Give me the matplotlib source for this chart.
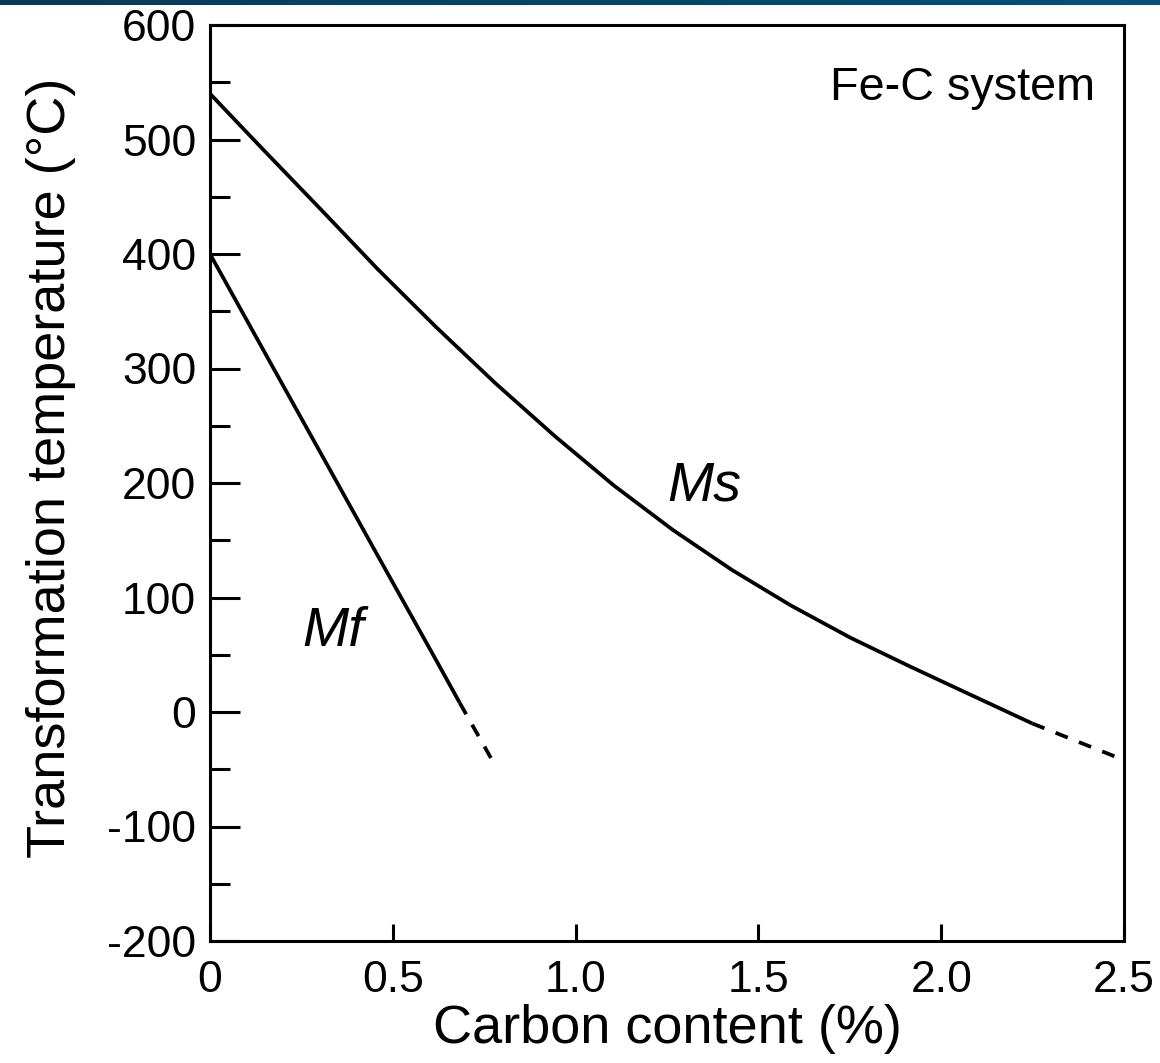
import numpy as np
import matplotlib
matplotlib.use("Agg")
import matplotlib.pyplot as plt
from matplotlib.colors import LinearSegmentedColormap

# ---- data ----
ms_x = [0, 0.134, 0.312, 0.458, 0.619, 0.781, 0.943, 1.104, 1.266, 1.428, 1.589, 1.751, 1.913, 2.074, 2.249]
ms_t = [540, 495, 436, 387, 336, 287, 241, 198, 159, 124, 93, 65, 40, 16, -10]
ms_dash_x = [2.249, 2.5]
ms_dash_t = [-10, -42]

mf_x = [0, 0.167, 0.296, 0.458, 0.619, 0.683]
mf_t = [400, 304, 230, 137, 45, 8]
mf_dash_x = [0.683, 0.777]
mf_dash_t = [8, -45]

x_ticks = [0, 0.5, 1.0, 1.5, 2.0, 2.5]
x_ticklabels = ["0", "0.5", "1.0", "1.5", "2.0", "2.5"]
y_ticks = [-200, -100, 0, 100, 200, 300, 400, 500, 600]
y_ticklabels = ["-200", "-100", "0", "100", "200", "300", "400", "500", "600"]
y_minor = [-150, -50, 50, 150, 250, 350, 450, 550]

plt.rcParams['font.family'] = ['Liberation Sans', 'DejaVu Sans']

W, H = 1160, 1063
fig = plt.figure(figsize=(W / 100, H / 100), dpi=100)

# top gradient bar
bar = fig.add_axes([0, 1 - 5 / H, 1, 5 / H])
cmap = LinearSegmentedColormap.from_list("bar", ["#053a58", "#00527c"])
bar.imshow(np.linspace(0, 1, 256)[None, :], aspect='auto', cmap=cmap, extent=[0, 1, 0, 1])
bar.set_axis_off()

ax = fig.add_axes([210 / W, 1 - 941 / H, (1124 - 210) / W, (941 - 25) / H])

lw = 2.7
dash = (0, (3.5, 3.2))
ax.plot(ms_x, ms_t, color='black', lw=lw, solid_capstyle='butt', solid_joinstyle='round')
ax.plot(ms_dash_x, ms_dash_t, color='black', lw=lw, linestyle=dash, dash_capstyle='butt')
ax.plot(mf_x, mf_t, color='black', lw=lw, solid_capstyle='butt', solid_joinstyle='round')
ax.plot(mf_dash_x, mf_dash_t, color='black', lw=lw, linestyle=dash, dash_capstyle='butt')

ax.set_xlim(0, 2.5)
ax.set_ylim(-200, 600)

ax.set_xticks(x_ticks)
ax.set_xticklabels(x_ticklabels)
ax.set_yticks(y_ticks)
ax.set_yticklabels(y_ticklabels)
ax.set_yticks(y_minor, minor=True)

ax.tick_params(axis='x', which='major', direction='in', length=12, width=2.2, labelsize=32, pad=14, top=False)
ax.tick_params(axis='y', which='major', direction='in', length=21.6, width=2.2, labelsize=32, pad=10, right=False)
ax.tick_params(axis='y', which='minor', direction='in', length=14.4, width=2.2, right=False)

for s in ax.spines.values():
    s.set_linewidth(2.2)

ax.set_xlabel("Carbon content (%)", fontsize=39, labelpad=2)
ax.set_ylabel("Transformation temperature (\u00b0C)", fontsize=39, labelpad=22)
ax.yaxis.label.set_y(0.517)

ax.text(0.336, 70, "Mf", fontsize=40, style='italic', ha='center', va='center')
ax.text(1.352, 197, "Ms", fontsize=40, style='italic', ha='center', va='center')
ax.text(2.42, 545, "Fe-C system", fontsize=33.7, ha='right', va='center')

fig.savefig("out.png", dpi=100)
